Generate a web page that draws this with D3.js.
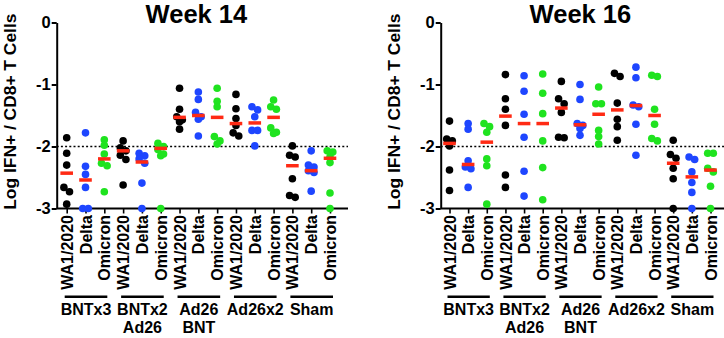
<!doctype html>
<html>
<head>
<script src="https://cdnjs.cloudflare.com/ajax/libs/d3/7.8.5/d3.min.js"></script>
<style>
  body { margin: 0; background: #fff; }
  text { font-family: "Liberation Sans", Arial, sans-serif; font-weight: bold; fill: #000; }
</style>
</head>
<body>
<svg width="724" height="338"></svg>
<script>
var variants = ["WA1/2020", "Delta", "Omicron"];
var groups = [["BNTx3"], ["BNTx2", "Ad26"], ["Ad26", "BNT"], ["Ad26x2"], ["Sham"]];
var colors = ["#000000", "#1e46ff", "#1fe31f"];
var yTicks = [0, -1, -2, -3];

// one array per column: group x variant
var week14Values = [
  [-1.86, -2.11, -2.30, -2.66, -2.73, -2.93],
  [-1.78, -2.32, -2.45, -2.66, -3.0, -3.0],
  [-1.89, -1.98, -2.12, -2.27, -2.31, -2.73],
  [-1.91, -2.02, -2.07, -2.14, -2.21, -2.62],
  [-2.11, -2.15, -2.20, -2.27, -2.59, -3.0],
  [-1.95, -2.0, -2.05, -2.12, -2.15, -3.0],
  [-1.06, -1.40, -1.52, -1.57, -1.60, -1.72],
  [-1.12, -1.24, -1.45, -1.52, -1.56, -1.83],
  [-1.06, -1.27, -1.36, -1.84, -1.91, -1.96],
  [-1.16, -1.39, -1.55, -1.66, -1.78, -1.83],
  [-1.36, -1.41, -1.52, -1.74, -1.74, -1.99],
  [-1.25, -1.36, -1.40, -1.70, -1.77, -1.79],
  [-1.99, -2.14, -2.17, -2.52, -2.79, -2.82],
  [-2.07, -2.30, -2.33, -2.39, -2.42, -2.72],
  [-2.07, -2.09, -2.17, -2.26, -2.75, -3.0]
];
var week14Means = [-2.43, -2.54, -2.20, -2.07, -2.25, -2.03, -1.53, -1.50, -1.53,
                   -1.63, -1.62, -1.53, -2.31, -2.39, -2.19];

var week16Values = [
  [-1.59, -1.88, -1.91, -1.99, -2.38, -2.71],
  [-1.63, -1.72, -2.23, -2.33, -2.36, -2.66],
  [-1.63, -1.68, -1.77, -2.20, -2.31, -2.93],
  [-0.84, -1.23, -1.40, -1.66, -2.46, -2.66],
  [-0.86, -1.11, -1.48, -1.85, -2.40, -2.80],
  [-0.83, -1.14, -1.47, -1.91, -2.34, -2.86],
  [-0.95, -1.23, -1.31, -1.45, -1.85, -1.86],
  [-1.00, -1.24, -1.63, -1.66, -1.71, -1.82],
  [-1.04, -1.31, -1.31, -1.74, -1.84, -1.96],
  [-0.82, -0.87, -1.30, -1.56, -1.68, -1.90],
  [-0.72, -0.89, -1.33, -1.36, -1.64, -2.14],
  [-0.85, -0.87, -1.40, -1.64, -1.87, -1.91],
  [-1.90, -2.13, -2.19, -2.35, -2.52, -3.0],
  [-2.17, -2.21, -2.41, -2.58, -2.74, -3.0],
  [-2.11, -2.11, -2.35, -2.41, -2.64, -3.0]
];
var week16Means = [-1.95, -2.29, -1.93, -1.51, -1.63, -1.63, -1.38, -1.65, -1.48,
                   -1.41, -1.34, -1.50, -2.27, -2.49, -2.38];

var panels = [
  { title: "Week 14", values: week14Values, means: week14Means, axisX: 56.7, first: 66.7, last: 330 },
  { title: "Week 16", values: week16Values, means: week16Means, axisX: 440.7, first: 449.5, last: 710.5 }
];

var svg = d3.select("svg");
var y = d3.scaleLinear().domain([-3, 0]).range([208.5, 22.5]);
var r = 3.8, dx = 2.8;

// spread overlapping dots sideways, like a scatter dot plot
function layoutColumn(vals) {
  var pts = vals.map(v => ({ v: v, py: y(v) })).sort((a, b) => a.py - b.py);
  var clusters = [], cur = [];
  pts.forEach(p => {
    if (cur.length && p.py - cur[cur.length - 1].py >= 5) { clusters.push(cur); cur = []; }
    cur.push(p);
  });
  if (cur.length) clusters.push(cur);
  clusters.forEach(c => {
    c.forEach((p, i) => {
      if (c.length === 1 || (c.length % 2 === 1 && i === c.length - 1)) p.off = 0;
      else p.off = i % 2 === 0 ? -dx : dx;
    });
  });
  return pts;
}

panels.forEach(function(p) {
  var g = svg.append("g");
  var x = d3.scalePoint().domain(d3.range(15)).range([p.first, p.last]);
  var xEnd = p.last + 18;

  // title
  g.append("text").attr("x", p.axisX + 139.7).attr("y", 23)
    .attr("text-anchor", "middle").style("font-size", "25.5px").text(p.title);

  // y label
  g.append("text")
    .attr("transform", "translate(" + (p.axisX - 40.3) + ",111.7) rotate(-90)")
    .attr("text-anchor", "middle").style("font-size", "17.4px")
    .text("Log IFN+ / CD8+ T Cells");

  // y axis
  var yAxis = d3.axisLeft(y).tickValues(yTicks).tickSize(5).tickSizeOuter(0).tickPadding(1)
    .tickFormat(d => String(d));
  var ya = g.append("g").attr("transform", "translate(" + p.axisX + ",0)").call(yAxis);
  ya.select(".domain").attr("stroke-width", 2);
  ya.selectAll(".tick line").attr("stroke-width", 2);
  ya.selectAll(".tick text").style("font-size", "16.5px").attr("font-family", null);

  // x axis
  var xAxis = d3.axisBottom(x).tickSize(5).tickSizeOuter(0).tickFormat(i => variants[i % 3]);
  var xa = g.append("g").attr("transform", "translate(0," + y(-3) + ")").call(xAxis);
  xa.select(".domain").remove();
  xa.append("line").attr("x1", p.axisX).attr("x2", xEnd)
    .attr("stroke", "#000").attr("stroke-width", 2);
  xa.selectAll(".tick line").attr("stroke-width", 1.6);
  xa.selectAll(".tick text")
    .attr("font-family", null)
    .style("font-size", "16px")
    .attr("text-anchor", "end")
    .attr("transform", "translate(0,6.5) rotate(-90)")
    .attr("x", 0).attr("y", 0).attr("dy", "0.35em");

  // dotted reference line at -2
  g.append("line").attr("x1", p.axisX).attr("x2", xEnd)
    .attr("y1", y(-2)).attr("y2", y(-2))
    .attr("stroke", "#000").attr("stroke-width", 1.6).attr("stroke-dasharray", "2,2.2");

  // group underlines and labels
  groups.forEach(function(lines, gi) {
    var a = x(gi * 3), b = x(gi * 3 + 2);
    g.append("line").attr("x1", a - 2).attr("x2", b + 3)
      .attr("y1", 296.7).attr("y2", 296.7)
      .attr("stroke", "#000").attr("stroke-width", 2.6);
    lines.forEach(function(t, li) {
      g.append("text").attr("x", (a + b) / 2 + 0.5).attr("y", 315 + li * 18.3)
        .attr("text-anchor", "middle").style("font-size", "16px").text(t);
    });
  });

  // dots
  p.values.forEach(function(vals, ci) {
    var pts = layoutColumn(vals);
    g.append("g").selectAll("circle").data(pts).join("circle")
      .attr("cx", d => x(ci) + d.off)
      .attr("cy", d => d.py)
      .attr("r", r)
      .attr("fill", colors[ci % 3]);
  });

  // mean bars
  g.append("g").selectAll("line").data(p.means).join("line")
    .attr("x1", (d, i) => x(i) - 6.3).attr("x2", (d, i) => x(i) + 6.3)
    .attr("y1", d => y(d)).attr("y2", d => y(d))
    .attr("stroke", "#ff2a14").attr("stroke-width", 3.5);
});
</script>
</body>
</html>
